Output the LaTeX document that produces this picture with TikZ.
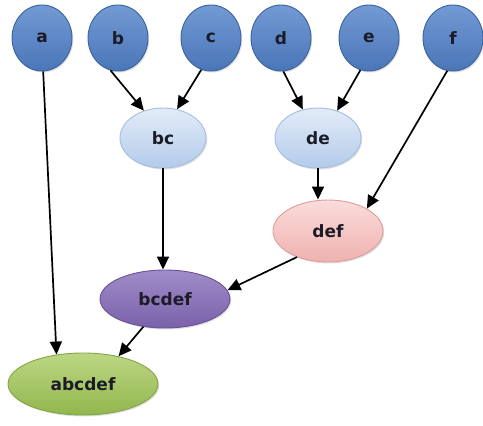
\documentclass[tikz,border=0pt]{standalone}
\usepackage{fontspec}
\setmainfont{DejaVu Sans}
\usetikzlibrary{shapes.geometric,arrows.meta,shadows}
\definecolor{leafTop}{HTML}{729AD4}
\definecolor{leafBot}{HTML}{4A76B8}
\definecolor{leafEdge}{HTML}{3A62A0}
\definecolor{lbTop}{HTML}{E2ECF8}
\definecolor{lbBot}{HTML}{B3CBEA}
\definecolor{lbEdge}{HTML}{A3BDE0}
\definecolor{pkTop}{HTML}{FADCDA}
\definecolor{pkBot}{HTML}{EEB2B0}
\definecolor{pkEdge}{HTML}{DE9D9B}
\definecolor{puTop}{HTML}{A08CC8}
\definecolor{puBot}{HTML}{7A61AA}
\definecolor{puEdge}{HTML}{685196}
\definecolor{grTop}{HTML}{BCD783}
\definecolor{grBot}{HTML}{92B64D}
\definecolor{grEdge}{HTML}{84A544}
\definecolor{txt}{HTML}{1C1C28}
\tikzset{
  blob/.style={ellipse, inner sep=0pt, draw, line width=0.9pt,
    font=\fontsize{17}{19}\selectfont\bfseries, text=txt,
    drop shadow={opacity=0.25, shadow xshift=1.2pt, shadow yshift=-1.5pt}},
  leaf/.style={blob, minimum width=60pt, minimum height=66pt,
    top color=leafTop, bottom color=leafBot, draw=leafEdge},
  mid/.style={blob, minimum width=86pt, minimum height=60pt,
    top color=lbTop, bottom color=lbBot, draw=lbEdge},
  pink/.style={blob, minimum width=110pt, minimum height=62pt,
    top color=pkTop, bottom color=pkBot, draw=pkEdge},
  violet/.style={blob, minimum width=130pt, minimum height=58pt,
    top color=puTop, bottom color=puBot, draw=puEdge},
  root/.style={blob, minimum width=150pt, minimum height=62pt,
    top color=grTop, bottom color=grBot, draw=grEdge},
  link/.style={draw=black, line width=1.7pt, -{Triangle[length=13pt,width=12pt]}}
}
\begin{document}
\begin{tikzpicture}[x=1pt, y=-1pt]
\useasboundingbox (0,0) rectangle (483,426);
% leaves
\node[leaf] (a) at (42,38) {a};
\node[leaf] (b) at (118,38) {b};
\node[leaf] (c) at (211,38) {c};
\node[leaf] (d) at (281,38) {d};
\node[leaf] (e) at (369,38) {e};
\node[leaf] (f) at (453,38) {f};
% merged clusters
\node[mid] (bc) at (163,138) {bc};
\node[mid] (de) at (318,138) {de};
\node[pink] (def) at (328,231) {def};
\node[violet] (bcdef) at (165,299) {bcdef};
\node[root] (abcdef) at (83,384) {abcdef};
% merges
\draw[link] (a.-88) -- (abcdef.132);
\draw[link] (b.-103) -- (bc.125);
\draw[link] (c.-107) -- (bc.64);
\draw[link] (d.-86) -- (de.118);
\draw[link] (e.-105) -- (de.55);
\draw[link] (f.-100) -- (def.30);
\draw[link] (de.south) -- (de.south |- def.north);
\draw[link] (bc.south) -- (bc.south |- bcdef.north);
\draw[link] (def.220) -- (bcdef.8);
\draw[link] (bcdef.232) -- (abcdef.38);
\end{tikzpicture}
\end{document}
